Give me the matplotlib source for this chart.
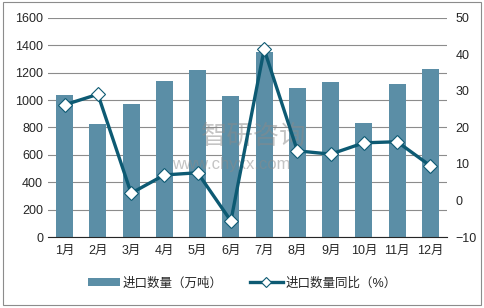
import matplotlib

matplotlib.use("Agg")
import matplotlib.pyplot as plt
import numpy as np
from matplotlib.patches import Rectangle

plt.rcParams["font.family"] = ["Liberation Sans", "Noto Sans CJK SC", "DejaVu Sans"]
plt.rcParams["font.size"] = 9

months = ["1月", "2月", "3月", "4月", "5月", "6月", "7月", "8月", "9月", "10月", "11月", "12月"]
import_qty = [1040, 825, 971, 1139, 1220, 1030, 1354, 1088, 1132, 833, 1117, 1227]
yoy_pct = [26.2, 29.1, 2.0, 7.0, 7.6, -5.6, 41.4, 13.6, 12.7, 15.8, 16.1, 9.5]

BAR_COLOR = "#5b8ea6"
LINE_COLOR = "#0d5a73"
TEXT_COLOR = "#262626"

fig = plt.figure(figsize=(4.84, 3.08), dpi=100)
ax = fig.add_axes([0.0992, 0.2305, 0.8244, 0.7111])
ax2 = ax.twinx()

x = np.arange(len(months))
ax.bar(x, import_qty, width=0.51, color=BAR_COLOR, zorder=2, label="进口数量（万吨）")
ax.set_xlim(-0.5, len(months) - 0.5)
ax.set_ylim(0, 1600)
ax.set_yticks(np.arange(0, 1601, 200))
ax.grid(axis="y", color="#8c8c8c", linewidth=0.8, zorder=0)
ax.set_xticks(x, months)
ax.tick_params(axis="both", length=0, colors=TEXT_COLOR, labelsize=9)
ax.tick_params(axis="x", pad=6)
for side in ("top", "right", "left"):
    ax.spines[side].set_visible(False)
ax.spines["bottom"].set_color("#262626")

# watermark, under the line
ax.text(0.415, 0.555, "智研咨询", transform=fig.transFigure, fontsize=19, color="#8a8a8a",
        alpha=0.5, ha="left", va="center", zorder=3)
ax.text(0.355, 0.465, "www.chyxx.com", transform=fig.transFigure, fontsize=12, color="#8a8a8a",
        alpha=0.5, ha="left", va="center", zorder=3)

ax2.plot(x, yoy_pct, color=LINE_COLOR, linewidth=2.4, marker="D", markersize=7,
         markerfacecolor="white", markeredgecolor=LINE_COLOR, markeredgewidth=0.8,
         zorder=3, label="进口数量同比（%）")
ax2.set_ylim(-10, 50)
ax2.set_yticks(np.arange(-10, 51, 10))
ax2.tick_params(axis="y", length=0, colors=TEXT_COLOR, labelsize=9, pad=6)
for side in ("top", "right", "left", "bottom"):
    ax2.spines[side].set_visible(False)

h1, l1 = ax.get_legend_handles_labels()
h2, l2 = ax2.get_legend_handles_labels()
fig.legend(h1 + h2, l1 + l2, loc="center", bbox_to_anchor=(0.5, 0.08), ncol=2, frameon=False,
           fontsize=9, handlelength=2.6, handleheight=0.6, columnspacing=2.2, handletextpad=0.2,
           markerscale=0.7, labelcolor=TEXT_COLOR)

fig.patches.append(Rectangle((0.006, 0.01), 0.988, 0.982, transform=fig.transFigure,
                             fill=False, edgecolor="#8c8c8c", linewidth=0.8))

fig.savefig("out.png", dpi=100)
